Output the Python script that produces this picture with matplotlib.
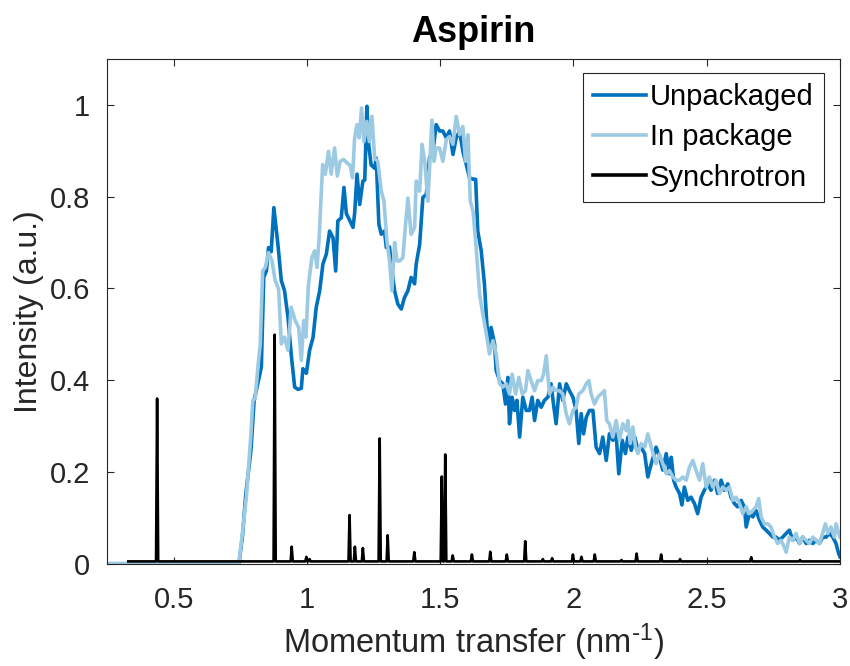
import matplotlib
matplotlib.use("Agg")
import matplotlib.pyplot as plt

plt.rcParams['font.family'] = ['Liberation Sans', 'DejaVu Sans']
plt.rcParams['mathtext.default'] = 'regular'

title = "Aspirin"
xlabel = r"Momentum transfer (nm$^{\text{-}1}$)"
ylabel = "Intensity (a.u.)"
series_names = ["Unpackaged", "In package", "Synchrotron"]
xticks = [0.5, 1, 1.5, 2, 2.5, 3]
xtick_labels = ["0.5", "1", "1.5", "2", "2.5", "3"]
yticks = [0, 0.2, 0.4, 0.6, 0.8, 1]
ytick_labels = ["0", "0.2", "0.4", "0.6", "0.8", "1"]

unpack_q = [0.25, 0.745, 0.758, 0.771, 0.790, 0.802, 0.829, 0.838, 0.848, 0.856, 0.866, 0.876,
            0.891, 0.904, 0.916, 0.929, 0.941, 0.954, 0.966, 0.979, 0.985, 0.998, 1.010, 1.023,
            1.035, 1.048, 1.060, 1.073, 1.085, 1.098, 1.108, 1.116, 1.129, 1.139, 1.148, 1.160,
            1.173, 1.179, 1.188, 1.198, 1.210, 1.217, 1.225, 1.232, 1.241, 1.254, 1.260, 1.270,
            1.279, 1.291, 1.298, 1.310, 1.316, 1.329, 1.341, 1.354, 1.366, 1.379, 1.391, 1.404,
            1.410, 1.423, 1.435, 1.448, 1.460, 1.473, 1.485, 1.498, 1.510, 1.523, 1.535, 1.548,
            1.560, 1.573, 1.585, 1.598, 1.610, 1.623, 1.633, 1.641, 1.654, 1.666, 1.675, 1.685,
            1.691, 1.704, 1.710, 1.723, 1.735, 1.745, 1.754, 1.760, 1.770, 1.779, 1.788, 1.798,
            1.810, 1.823, 1.835, 1.845, 1.854, 1.866, 1.879, 1.891, 1.904, 1.916, 1.925, 1.935,
            1.948, 1.960, 1.973, 1.985, 1.998, 2.010, 2.020, 2.029, 2.038, 2.048, 2.060, 2.073,
            2.085, 2.098, 2.110, 2.123, 2.135, 2.148, 2.160, 2.170, 2.183, 2.195, 2.204, 2.217,
            2.230, 2.242, 2.254, 2.267, 2.279, 2.292, 2.310, 2.323, 2.335, 2.348, 2.360, 2.367,
            2.376, 2.385, 2.398, 2.407, 2.416, 2.429, 2.441, 2.454, 2.466, 2.479, 2.491, 2.504,
            2.516, 2.529, 2.541, 2.554, 2.566, 2.579, 2.591, 2.604, 2.616, 2.629, 2.641, 2.648,
            2.660, 2.673, 2.685, 2.698, 2.710, 2.723, 2.735, 2.748, 2.760, 2.773, 2.785, 2.798,
            2.810, 2.823, 2.835, 2.848, 2.860, 2.873, 2.885, 2.898, 2.910, 2.923, 2.935, 2.948,
            2.960, 2.973, 2.985, 2.995, 3.000]
unpack_y = [0.0, 0.0, 0.059, 0.153, 0.247, 0.356, 0.428, 0.624, 0.638, 0.689, 0.680, 0.776,
            0.697, 0.617, 0.595, 0.537, 0.457, 0.385, 0.380, 0.382, 0.425, 0.415, 0.465, 0.493,
            0.559, 0.595, 0.653, 0.675, 0.725, 0.710, 0.638, 0.747, 0.754, 0.820, 0.763, 0.749,
            0.733, 0.763, 0.849, 0.783, 0.834, 0.836, 0.997, 0.912, 0.869, 0.862, 0.884, 0.740,
            0.718, 0.725, 0.689, 0.690, 0.653, 0.595, 0.566, 0.555, 0.580, 0.595, 0.624, 0.610,
            0.653, 0.696, 0.798, 0.805, 0.885, 0.899, 0.957, 0.943, 0.943, 0.928, 0.943, 0.892,
            0.928, 0.943, 0.899, 0.870, 0.841, 0.838, 0.838, 0.725, 0.682, 0.610, 0.523, 0.465,
            0.515, 0.479, 0.421, 0.399, 0.392, 0.348, 0.406, 0.305, 0.363, 0.334, 0.356, 0.276,
            0.363, 0.334, 0.334, 0.363, 0.312, 0.356, 0.341, 0.356, 0.363, 0.392, 0.348, 0.305,
            0.392, 0.356, 0.392, 0.377, 0.363, 0.334, 0.262, 0.327, 0.283, 0.319, 0.334, 0.334,
            0.254, 0.240, 0.276, 0.225, 0.283, 0.269, 0.283, 0.196, 0.269, 0.240, 0.276, 0.247,
            0.276, 0.247, 0.254, 0.240, 0.189, 0.218, 0.254, 0.232, 0.204, 0.240, 0.196, 0.232,
            0.182, 0.167, 0.153, 0.128, 0.167, 0.138, 0.145, 0.131, 0.109, 0.145, 0.160, 0.174,
            0.160, 0.182, 0.153, 0.182, 0.160, 0.174, 0.145, 0.131, 0.124, 0.138, 0.124, 0.080,
            0.109, 0.102, 0.116, 0.095, 0.080, 0.073, 0.066, 0.058, 0.058, 0.051, 0.058, 0.066,
            0.073, 0.051, 0.058, 0.044, 0.058, 0.044, 0.051, 0.044, 0.051, 0.044, 0.058, 0.058,
            0.066, 0.058, 0.044, 0.022, 0.015]

pkg_q = [0.25, 0.745, 0.773, 0.790, 0.797, 0.806, 0.816, 0.825, 0.834, 0.844, 0.856, 0.869,
         0.881, 0.894, 0.904, 0.916, 0.929, 0.941, 0.956, 0.969, 0.979, 0.988, 0.996, 1.006,
         1.019, 1.029, 1.038, 1.046, 1.059, 1.069, 1.081, 1.091, 1.104, 1.114, 1.125, 1.138,
         1.150, 1.163, 1.171, 1.179, 1.188, 1.196, 1.205, 1.214, 1.225, 1.234, 1.244, 1.254,
         1.266, 1.279, 1.289, 1.300, 1.310, 1.319, 1.329, 1.338, 1.348, 1.360, 1.370, 1.379,
         1.391, 1.404, 1.410, 1.423, 1.432, 1.442, 1.454, 1.469, 1.477, 1.485, 1.498, 1.510,
         1.523, 1.535, 1.548, 1.560, 1.573, 1.585, 1.595, 1.604, 1.613, 1.623, 1.635, 1.648,
         1.660, 1.673, 1.685, 1.698, 1.710, 1.723, 1.735, 1.748, 1.760, 1.770, 1.783, 1.795,
         1.808, 1.820, 1.829, 1.841, 1.854, 1.866, 1.879, 1.888, 1.898, 1.910, 1.923, 1.935,
         1.948, 1.960, 1.973, 1.985, 1.998, 2.010, 2.020, 2.035, 2.048, 2.058, 2.066, 2.079,
         2.091, 2.104, 2.116, 2.125, 2.135, 2.148, 2.160, 2.173, 2.185, 2.198, 2.204, 2.213,
         2.223, 2.233, 2.242, 2.254, 2.267, 2.279, 2.292, 2.310, 2.323, 2.335, 2.348, 2.360,
         2.373, 2.385, 2.398, 2.410, 2.423, 2.435, 2.448, 2.460, 2.473, 2.485, 2.498, 2.510,
         2.523, 2.535, 2.548, 2.560, 2.573, 2.585, 2.598, 2.610, 2.623, 2.635, 2.648, 2.660,
         2.673, 2.685, 2.695, 2.704, 2.716, 2.729, 2.741, 2.754, 2.766, 2.779, 2.791, 2.798,
         2.810, 2.823, 2.835, 2.848, 2.860, 2.873, 2.885, 2.898, 2.910, 2.923, 2.935, 2.945,
         2.954, 2.966, 2.979, 2.985, 2.995, 3.000]
pkg_y = [0.0, 0.0, 0.146, 0.283, 0.356, 0.360, 0.428, 0.479, 0.638, 0.646, 0.678, 0.660,
         0.617, 0.598, 0.479, 0.494, 0.465, 0.559, 0.530, 0.515, 0.443, 0.530, 0.494, 0.610,
         0.668, 0.682, 0.646, 0.711, 0.870, 0.849, 0.899, 0.849, 0.906, 0.845, 0.877, 0.881,
         0.874, 0.867, 0.841, 0.928, 0.957, 0.928, 0.993, 0.920, 0.964, 0.920, 0.975, 0.884,
         0.877, 0.812, 0.791, 0.704, 0.660, 0.595, 0.700, 0.660, 0.660, 0.667, 0.739, 0.797,
         0.718, 0.733, 0.834, 0.812, 0.914, 0.877, 0.790, 0.967, 0.877, 0.906, 0.906, 0.877,
         0.924, 0.931, 0.914, 0.975, 0.935, 0.953, 0.877, 0.935, 0.790, 0.769, 0.689, 0.587,
         0.544, 0.501, 0.457, 0.486, 0.457, 0.392, 0.385, 0.392, 0.370, 0.413, 0.370, 0.406,
         0.370, 0.377, 0.421, 0.399, 0.377, 0.399, 0.399, 0.413, 0.453, 0.370, 0.385, 0.377,
         0.377, 0.370, 0.326, 0.305, 0.334, 0.341, 0.370, 0.377, 0.392, 0.399, 0.370, 0.348,
         0.363, 0.370, 0.377, 0.312, 0.305, 0.276, 0.312, 0.269, 0.305, 0.290, 0.312, 0.262,
         0.298, 0.254, 0.240, 0.262, 0.254, 0.283, 0.254, 0.218, 0.239, 0.218, 0.196, 0.203,
         0.189, 0.182, 0.182, 0.189, 0.182, 0.210, 0.225, 0.203, 0.182, 0.218, 0.167, 0.189,
         0.167, 0.182, 0.153, 0.167, 0.160, 0.167, 0.138, 0.145, 0.131, 0.109, 0.124, 0.109,
         0.116, 0.124, 0.142, 0.102, 0.087, 0.087, 0.080, 0.058, 0.044, 0.051, 0.036, 0.025,
         0.058, 0.051, 0.066, 0.044, 0.058, 0.051, 0.044, 0.058, 0.051, 0.044, 0.066, 0.087,
         0.066, 0.080, 0.058, 0.087, 0.066, 0.058]

synch_start = 0.33
synch_end = 3.0
synch_base = 0.005
synch_peak_q = [0.438, 0.879, 0.943, 0.998, 1.010, 1.160, 1.180, 1.210, 1.273, 1.303,
                1.403, 1.506, 1.519, 1.547, 1.619, 1.688, 1.750, 1.819, 1.885, 1.920,
                1.998, 2.030, 2.080, 2.180, 2.237, 2.329, 2.400, 2.667, 2.850]
synch_peak_h = [0.360, 0.499, 0.037, 0.015, 0.010, 0.106, 0.037, 0.034, 0.273, 0.062,
                0.025, 0.190, 0.238, 0.018, 0.020, 0.026, 0.020, 0.049, 0.010, 0.012,
                0.020, 0.015, 0.020, 0.008, 0.022, 0.020, 0.010, 0.014, 0.008]
peak_halfwidth = 0.004

# assemble synchrotron polyline from the peak list
sq = [synch_start]
sy = [synch_base]
for pq, ph in zip(synch_peak_q, synch_peak_h):
    sq += [pq - peak_halfwidth, pq, pq + peak_halfwidth]
    sy += [synch_base, ph, synch_base]
sq.append(synch_end)
sy.append(synch_base)

c_unpack = "#0072BD"
c_pkg = "#9DCAE3"
c_synch = "#000000"
axis_col = "#262626"

fig = plt.figure(figsize=(8.5, 6.66), dpi=100)
ax = fig.add_axes([107 / 850, 102.3 / 666, 733 / 850, 504.7 / 666])

ax.plot(unpack_q, unpack_y, color=c_unpack, lw=2.6, label=series_names[0])
ax.plot(pkg_q, pkg_y, color=c_pkg, lw=2.6, label=series_names[1])
ax.plot(sq, sy, color=c_synch, lw=1.9, label=series_names[2])

ax.set_xlim(0.25, 3.0)
ax.set_ylim(0, 1.1)
ax.set_xticks(xticks)
ax.set_xticklabels(xtick_labels)
ax.set_yticks(yticks)
ax.set_yticklabels(ytick_labels)
ax.tick_params(direction='in', length=5, width=0.8, top=True, right=True,
               colors=axis_col, labelsize=21, labelcolor=axis_col)
ax.tick_params(axis='x', pad=16)
ax.tick_params(axis='y', pad=12)
for sp in ax.spines.values():
    sp.set_color(axis_col)
    sp.set_linewidth(0.8)

ax.set_title(title, fontsize=26, fontweight='bold', pad=12)
ax.set_xlabel(xlabel, fontsize=23.5, color=axis_col, va='center')
ax.xaxis.set_label_coords(0.5, (563.7 - 642) / 504.7)
ax.set_ylabel(ylabel, fontsize=23, color=axis_col, va='center', ha='center')
ax.yaxis.set_label_coords((29 - 107) / 733, 0.5)

leg = ax.legend(loc='upper right', bbox_to_anchor=(1 - 16 / 733, 1 - 14 / 504.7),
                borderaxespad=0, fontsize=21, frameon=True, fancybox=False,
                handlelength=1.8, handletextpad=0.15, borderpad=0.35, labelspacing=0.42)
leg.get_frame().set_edgecolor(axis_col)
leg.get_frame().set_linewidth(0.8)
leg.get_frame().set_alpha(1)
for line in leg.get_lines():
    line.set_linewidth(2.6)

fig.savefig("out.png", dpi=100)
